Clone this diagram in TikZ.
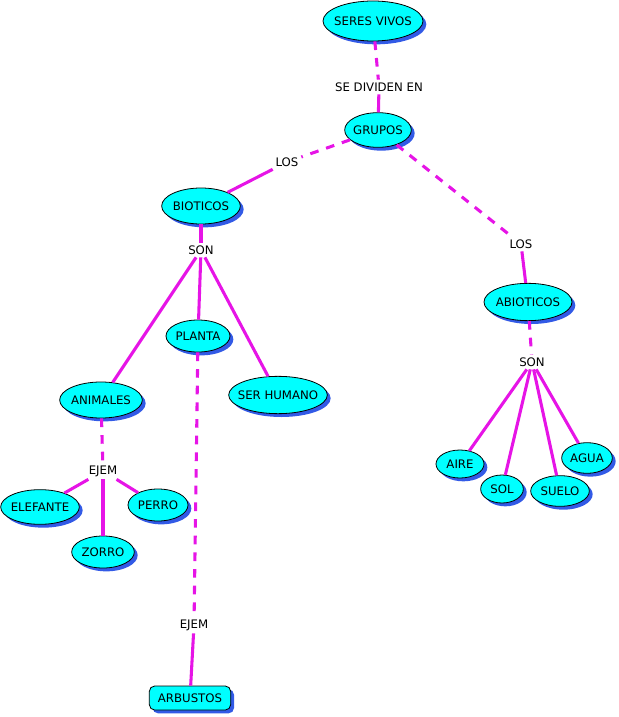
\documentclass[tikz,border=0pt]{standalone}
\usepackage{fontspec}
\setmainfont{DejaVu Sans}
\usetikzlibrary{shapes.geometric,shadows}
\definecolor{cmcyan}{RGB}{0,255,255}
\definecolor{cmshadow}{RGB}{50,90,230}
\definecolor{cmline}{RGB}{230,20,230}

\begin{document}
\begin{tikzpicture}[x=0.75pt,y=-0.75pt,
  concept/.style={ellipse,draw=black,line width=0.6pt,fill=cmcyan,inner sep=0pt,
    font=\fontsize{8.8}{10}\selectfont,
    execute at begin node=\hbox to 0pt\bgroup\hss,
    execute at end node=\hss\egroup,
    drop shadow={shadow xshift=2.5pt,shadow yshift=-2.5pt,fill=cmshadow,opacity=1}},
  example/.style={concept,rectangle,rounded corners=4pt},
  linker/.style={fill=white,inner sep=2pt,font=\fontsize{8.8}{10}\selectfont},
  full/.style={cmline,line width=2.3pt},
  broken/.style={full,dash pattern=on 6.5pt off 6pt}]
  \useasboundingbox (0,0) rectangle (618,717);

  \node[concept,minimum width=75pt,minimum height=30pt] (seres) at (373,21) {SERES VIVOS};
  \node[linker] (dividen) at (379,87) {SE DIVIDEN EN};
  \node[concept,minimum width=50pt,minimum height=26pt] (grupos) at (378,130) {GRUPOS};
  \node[linker] (losl) at (287,162) {LOS};
  \node[linker] (losr) at (521,244) {LOS};
  \node[concept,minimum width=59pt,minimum height=27pt] (bioticos) at (201,206) {BIOTICOS};
  \node[concept,minimum width=66pt,minimum height=28pt] (abioticos) at (528,302) {ABIOTICOS};
  \node[linker] (sonl) at (201,250) {SON};
  \node[linker] (sonr) at (532,362) {SON};
  \node[concept,minimum width=48pt,minimum height=24pt] (planta) at (198,336) {PLANTA};
  \node[concept,minimum width=74pt,minimum height=28pt] (humano) at (278,395) {SER HUMANO};
  \node[concept,minimum width=62pt,minimum height=27pt] (animales) at (101,400) {ANIMALES};
  \node[linker] (ejema) at (103,471) {EJEM};
  \node[concept,minimum width=59pt,minimum height=26pt] (elefante) at (40,507) {ELEFANTE};
  \node[concept,minimum width=45pt,minimum height=24pt] (perro) at (158,505) {PERRO};
  \node[concept,minimum width=47pt,minimum height=24pt] (zorro) at (103,552) {ZORRO};
  \node[linker] (ejemp) at (194,625) {EJEM};
  \node[example,minimum width=61pt,minimum height=18pt] (arbustos) at (190,698) {ARBUSTOS};
  \node[concept,minimum width=36pt,minimum height=21pt] (aire) at (460,464) {AIRE};
  \node[concept,minimum width=32pt,minimum height=21pt] (sol) at (502,489) {SOL};
  \node[concept,minimum width=44pt,minimum height=23pt] (suelo) at (560,491) {SUELO};
  \node[concept,minimum width=38pt,minimum height=23pt] (agua) at (587,458) {AGUA};

  \draw[broken] (seres) -- (dividen);
  \draw[full] (dividen) -- (grupos);
  \draw[broken] (grupos) -- (losl);
  \draw[full] (losl) -- (bioticos);
  \draw[broken] (grupos) -- (losr);
  \draw[full] (losr) -- (abioticos);
  \draw[full] (bioticos) -- (sonl);
  \draw[full] (sonl) -- (animales);
  \draw[full] (sonl) -- (planta);
  \draw[full] (sonl) -- (humano);
  \draw[broken] (abioticos) -- (sonr);
  \draw[full] (sonr) -- (aire);
  \draw[full] (sonr) -- (sol);
  \draw[full] (sonr) -- (suelo);
  \draw[full] (sonr) -- (agua);
  \draw[broken] (animales) -- (ejema);
  \draw[full] (ejema) -- (elefante);
  \draw[full] (ejema) -- (zorro);
  \draw[full] (ejema) -- (perro);
  \draw[broken] (planta) -- (ejemp);
  \draw[full] (ejemp) -- (arbustos);
\end{tikzpicture}
\end{document}
